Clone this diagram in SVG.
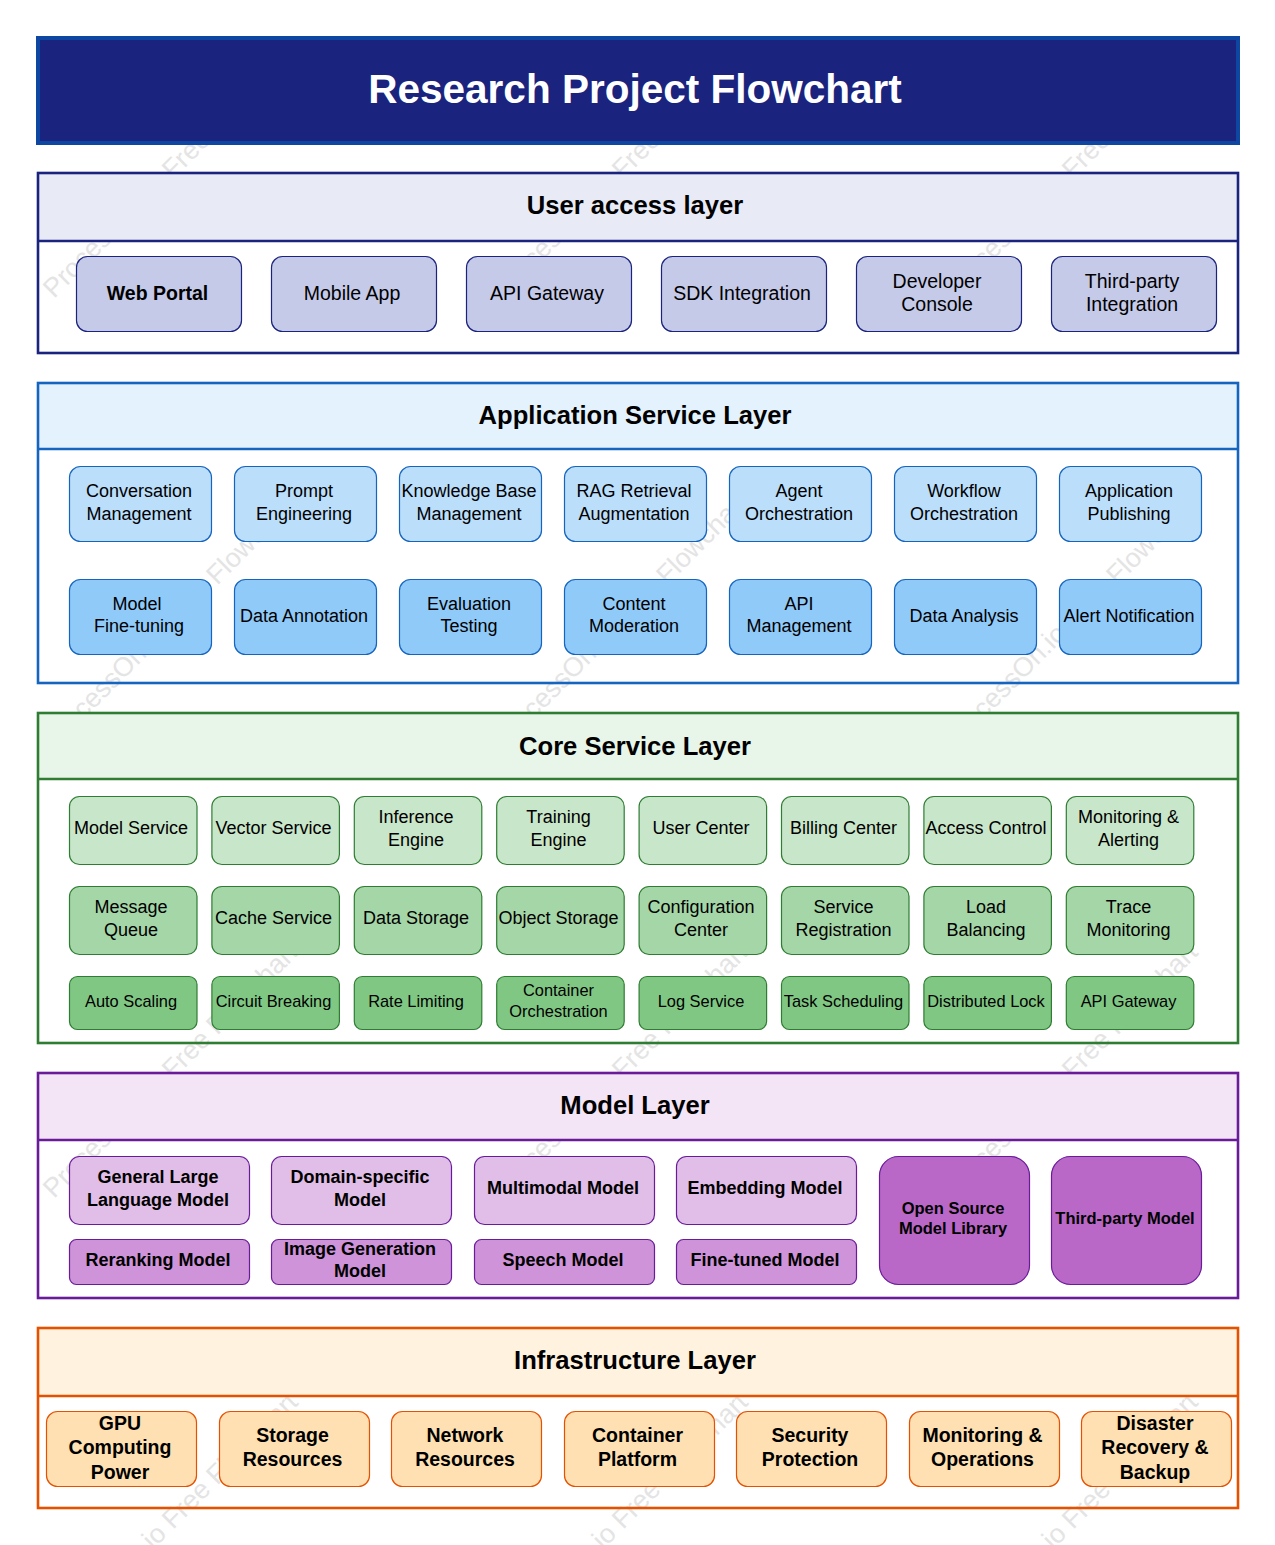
<svg xmlns="http://www.w3.org/2000/svg" width="1275" height="1545" viewBox="0 0 1275 1545">
<style>
text{font-family:"Liberation Sans",Arial,sans-serif;text-anchor:middle;fill:#000}
.wm{fill:#e4e4e4;font-size:26.8px;text-anchor:start}
.lt{font-size:25.6px;font-weight:bold}
.n{font-size:18px}
.un{font-size:19.5px}
.s{font-size:16.4px}
.b{font-size:19.5px;font-weight:bold}
.m{font-size:18px;font-weight:bold}
.ms{font-size:16.5px;font-weight:bold}
.u{fill:#c5cae9;stroke:#1a237e;stroke-width:1.2}
.a1{fill:#bbdefb;stroke:#1565c0;stroke-width:1.2}
.a2{fill:#90caf9;stroke:#1565c0;stroke-width:1.2}
.c1{fill:#c8e6c9;stroke:#2e7d32;stroke-width:1.2}
.c2{fill:#a5d6a7;stroke:#2e7d32;stroke-width:1.2}
.c3{fill:#81c784;stroke:#2e7d32;stroke-width:1.2}
.m1{fill:#e1bee7;stroke:#6a1b9a;stroke-width:1.2}
.m2{fill:#ce93d8;stroke:#6a1b9a;stroke-width:1.2}
.m3{fill:#ba68c8;stroke:#6a1b9a;stroke-width:1.2}
.i{fill:#ffe0b2;stroke:#e65100;stroke-width:1.2}
.lb{fill:none;stroke-width:2.6}
</style>
<rect width="1275" height="1545" fill="#ffffff"/>
<g id="watermark">
<text class="wm" transform="translate(54 299) rotate(-45)">ProcessOn.io Free Flowchart</text>
<text class="wm" transform="translate(504 299) rotate(-45)">ProcessOn.io Free Flowchart</text>
<text class="wm" transform="translate(954 299) rotate(-45)">ProcessOn.io Free Flowchart</text>
<text class="wm" transform="translate(54 749) rotate(-45)">ProcessOn.io Free Flowchart</text>
<text class="wm" transform="translate(504 749) rotate(-45)">ProcessOn.io Free Flowchart</text>
<text class="wm" transform="translate(954 749) rotate(-45)">ProcessOn.io Free Flowchart</text>
<text class="wm" transform="translate(54 1199) rotate(-45)">ProcessOn.io Free Flowchart</text>
<text class="wm" transform="translate(504 1199) rotate(-45)">ProcessOn.io Free Flowchart</text>
<text class="wm" transform="translate(954 1199) rotate(-45)">ProcessOn.io Free Flowchart</text>
<text class="wm" transform="translate(54 1649) rotate(-45)">ProcessOn.io Free Flowchart</text>
<text class="wm" transform="translate(504 1649) rotate(-45)">ProcessOn.io Free Flowchart</text>
<text class="wm" transform="translate(954 1649) rotate(-45)">ProcessOn.io Free Flowchart</text>
</g>
<g id="title">
<rect x="38" y="38" width="1200" height="105" fill="#1a237e" stroke="#0d47a1" stroke-width="4"/>
<text x="635" y="103" style="font-size:40.5px;font-weight:bold;fill:#fff">Research Project Flowchart</text>
</g>
<g id="layer-user">
<rect x="38" y="173" width="1200" height="68" fill="#e8eaf6"/>
<rect class="lb" x="38" y="173" width="1200" height="180" stroke="#1a237e"/>
<line class="lb" x1="38" y1="241" x2="1238" y2="241" stroke="#1a237e"/>
<text class="lt" x="635" y="214">User access layer</text>
</g>
<g id="layer-app">
<rect x="38" y="383" width="1200" height="66" fill="#e3f2fd"/>
<rect class="lb" x="38" y="383" width="1200" height="300" stroke="#1565c0"/>
<line class="lb" x1="38" y1="449" x2="1238" y2="449" stroke="#1565c0"/>
<text class="lt" x="635" y="424">Application Service Layer</text>
</g>
<g id="layer-core">
<rect x="38" y="713" width="1200" height="66" fill="#e8f5e9"/>
<rect class="lb" x="38" y="713" width="1200" height="330" stroke="#2e7d32"/>
<line class="lb" x1="38" y1="779" x2="1238" y2="779" stroke="#2e7d32"/>
<text class="lt" x="635" y="755">Core Service Layer</text>
</g>
<g id="layer-model">
<rect x="38" y="1073" width="1200" height="67" fill="#f3e5f5"/>
<rect class="lb" x="38" y="1073" width="1200" height="225" stroke="#6a1b9a"/>
<line class="lb" x1="38" y1="1140" x2="1238" y2="1140" stroke="#6a1b9a"/>
<text class="lt" x="635" y="1114">Model Layer</text>
</g>
<g id="layer-infra">
<rect x="38" y="1328" width="1200" height="68" fill="#fff3e0"/>
<rect class="lb" x="38" y="1328" width="1200" height="180" stroke="#e65100"/>
<line class="lb" x1="38" y1="1396" x2="1238" y2="1396" stroke="#e65100"/>
<text class="lt" x="635" y="1369">Infrastructure Layer</text>
</g>
<g id="connectors"/>
<g id="u1"><rect class="u" x="76.5" y="256.5" width="165" height="75" rx="11"/><text class="b" x="157.5" y="300">Web Portal</text></g>
<g id="u2"><rect class="u" x="271.5" y="256.5" width="165" height="75" rx="11"/><text class="un" x="352" y="300">Mobile App</text></g>
<g id="u3"><rect class="u" x="466.5" y="256.5" width="165" height="75" rx="11"/><text class="un" x="547" y="300">API Gateway</text></g>
<g id="u4"><rect class="u" x="661.5" y="256.5" width="165" height="75" rx="11"/><text class="un" x="742" y="300">SDK Integration</text></g>
<g id="u5"><rect class="u" x="856.5" y="256.5" width="165" height="75" rx="11"/><text class="un"><tspan x="937" y="288">Developer</tspan><tspan x="937" y="311">Console</tspan></text></g>
<g id="u6"><rect class="u" x="1051.5" y="256.5" width="165" height="75" rx="11"/><text class="un"><tspan x="1132" y="288">Third-party</tspan><tspan x="1132" y="311">Integration</tspan></text></g>
<g id="a1"><rect class="a1" x="69.5" y="466.5" width="142" height="75" rx="11"/><text class="n"><tspan x="139" y="497">Conversation</tspan><tspan x="139" y="519.5">Management</tspan></text></g>
<g id="a2"><rect class="a1" x="234.5" y="466.5" width="142" height="75" rx="11"/><text class="n"><tspan x="304" y="497">Prompt</tspan><tspan x="304" y="519.5">Engineering</tspan></text></g>
<g id="a3"><rect class="a1" x="399.5" y="466.5" width="142" height="75" rx="11"/><text class="n"><tspan x="469" y="497">Knowledge Base</tspan><tspan x="469" y="519.5">Management</tspan></text></g>
<g id="a4"><rect class="a1" x="564.5" y="466.5" width="142" height="75" rx="11"/><text class="n"><tspan x="634" y="497">RAG Retrieval</tspan><tspan x="634" y="519.5">Augmentation</tspan></text></g>
<g id="a5"><rect class="a1" x="729.5" y="466.5" width="142" height="75" rx="11"/><text class="n"><tspan x="799" y="497">Agent</tspan><tspan x="799" y="519.5">Orchestration</tspan></text></g>
<g id="a6"><rect class="a1" x="894.5" y="466.5" width="142" height="75" rx="11"/><text class="n"><tspan x="964" y="497">Workflow</tspan><tspan x="964" y="519.5">Orchestration</tspan></text></g>
<g id="a7"><rect class="a1" x="1059.5" y="466.5" width="142" height="75" rx="11"/><text class="n"><tspan x="1129" y="497">Application</tspan><tspan x="1129" y="519.5">Publishing</tspan></text></g>
<g id="a8"><rect class="a2" x="69.5" y="579.5" width="142" height="75" rx="11"/><text class="n"><tspan x="137" y="610">Model</tspan><tspan x="139" y="632">Fine-tuning</tspan></text></g>
<g id="a9"><rect class="a2" x="234.5" y="579.5" width="142" height="75" rx="11"/><text class="n" x="304" y="621.5">Data Annotation</text></g>
<g id="a10"><rect class="a2" x="399.5" y="579.5" width="142" height="75" rx="11"/><text class="n"><tspan x="469" y="610">Evaluation</tspan><tspan x="469" y="632">Testing</tspan></text></g>
<g id="a11"><rect class="a2" x="564.5" y="579.5" width="142" height="75" rx="11"/><text class="n"><tspan x="634" y="610">Content</tspan><tspan x="634" y="632">Moderation</tspan></text></g>
<g id="a12"><rect class="a2" x="729.5" y="579.5" width="142" height="75" rx="11"/><text class="n"><tspan x="799" y="610">API</tspan><tspan x="799" y="632">Management</tspan></text></g>
<g id="a13"><rect class="a2" x="894.5" y="579.5" width="142" height="75" rx="11"/><text class="n" x="964" y="621.5">Data Analysis</text></g>
<g id="a14"><rect class="a2" x="1059.5" y="579.5" width="142" height="75" rx="11"/><text class="n" x="1129" y="621.5">Alert Notification</text></g>
<g id="c1"><rect class="c1" x="69.5" y="796.5" width="127.5" height="68" rx="10"/><text class="n" x="131" y="834">Model Service</text></g>
<g id="c2"><rect class="c1" x="211.9" y="796.5" width="127.5" height="68" rx="10"/><text class="n" x="273.5" y="834">Vector Service</text></g>
<g id="c3"><rect class="c1" x="354.3" y="796.5" width="127.5" height="68" rx="10"/><text class="n"><tspan x="416" y="823">Inference</tspan><tspan x="416" y="846">Engine</tspan></text></g>
<g id="c4"><rect class="c1" x="496.7" y="796.5" width="127.5" height="68" rx="10"/><text class="n"><tspan x="558.5" y="823">Training</tspan><tspan x="558.5" y="846">Engine</tspan></text></g>
<g id="c5"><rect class="c1" x="639.1" y="796.5" width="127.5" height="68" rx="10"/><text class="n" x="701" y="834">User Center</text></g>
<g id="c6"><rect class="c1" x="781.5" y="796.5" width="127.5" height="68" rx="10"/><text class="n" x="843.5" y="834">Billing Center</text></g>
<g id="c7"><rect class="c1" x="923.9" y="796.5" width="127.5" height="68" rx="10"/><text class="n" x="986" y="834">Access Control</text></g>
<g id="c8"><rect class="c1" x="1066.3" y="796.5" width="127.5" height="68" rx="10"/><text class="n"><tspan x="1128.5" y="823">Monitoring &amp;</tspan><tspan x="1128.5" y="846">Alerting</tspan></text></g>
<g id="c9"><rect class="c2" x="69.5" y="886.5" width="127.5" height="68" rx="10"/><text class="n"><tspan x="131" y="913">Message</tspan><tspan x="131" y="936">Queue</tspan></text></g>
<g id="c10"><rect class="c2" x="211.9" y="886.5" width="127.5" height="68" rx="10"/><text class="n" x="273.5" y="924">Cache Service</text></g>
<g id="c11"><rect class="c2" x="354.3" y="886.5" width="127.5" height="68" rx="10"/><text class="n" x="416" y="924">Data Storage</text></g>
<g id="c12"><rect class="c2" x="496.7" y="886.5" width="127.5" height="68" rx="10"/><text class="n" x="558.5" y="924">Object Storage</text></g>
<g id="c13"><rect class="c2" x="639.1" y="886.5" width="127.5" height="68" rx="10"/><text class="n"><tspan x="701" y="913">Configuration</tspan><tspan x="701" y="936">Center</tspan></text></g>
<g id="c14"><rect class="c2" x="781.5" y="886.5" width="127.5" height="68" rx="10"/><text class="n"><tspan x="843.5" y="913">Service</tspan><tspan x="843.5" y="936">Registration</tspan></text></g>
<g id="c15"><rect class="c2" x="923.9" y="886.5" width="127.5" height="68" rx="10"/><text class="n"><tspan x="986" y="913">Load</tspan><tspan x="986" y="936">Balancing</tspan></text></g>
<g id="c16"><rect class="c2" x="1066.3" y="886.5" width="127.5" height="68" rx="10"/><text class="n"><tspan x="1128.5" y="913">Trace</tspan><tspan x="1128.5" y="936">Monitoring</tspan></text></g>
<g id="c17"><rect class="c3" x="69.5" y="976.5" width="127.5" height="53" rx="8"/><text class="s" x="131" y="1007">Auto Scaling</text></g>
<g id="c18"><rect class="c3" x="211.9" y="976.5" width="127.5" height="53" rx="8"/><text class="s" x="273.5" y="1007">Circuit Breaking</text></g>
<g id="c19"><rect class="c3" x="354.3" y="976.5" width="127.5" height="53" rx="8"/><text class="s" x="416" y="1007">Rate Limiting</text></g>
<g id="c20"><rect class="c3" x="496.7" y="976.5" width="127.5" height="53" rx="8"/><text class="s"><tspan x="558.5" y="996">Container</tspan><tspan x="558.5" y="1017">Orchestration</tspan></text></g>
<g id="c21"><rect class="c3" x="639.1" y="976.5" width="127.5" height="53" rx="8"/><text class="s" x="701" y="1007">Log Service</text></g>
<g id="c22"><rect class="c3" x="781.5" y="976.5" width="127.5" height="53" rx="8"/><text class="s" x="843.5" y="1007">Task Scheduling</text></g>
<g id="c23"><rect class="c3" x="923.9" y="976.5" width="127.5" height="53" rx="8"/><text class="s" x="986" y="1007">Distributed Lock</text></g>
<g id="c24"><rect class="c3" x="1066.3" y="976.5" width="127.5" height="53" rx="8"/><text class="s" x="1128.5" y="1007">API Gateway</text></g>
<g id="m1"><rect class="m1" x="69.5" y="1156.5" width="180" height="68" rx="10"/><text class="m"><tspan x="158" y="1183">General Large</tspan><tspan x="158" y="1206">Language Model</tspan></text></g>
<g id="m2"><rect class="m1" x="271.5" y="1156.5" width="180" height="68" rx="10"/><text class="m"><tspan x="360" y="1183">Domain-specific</tspan><tspan x="360" y="1206">Model</tspan></text></g>
<g id="m3"><rect class="m1" x="474.5" y="1156.5" width="180" height="68" rx="10"/><text class="m" x="563" y="1194">Multimodal Model</text></g>
<g id="m4"><rect class="m1" x="676.5" y="1156.5" width="180" height="68" rx="10"/><text class="m" x="765" y="1194">Embedding Model</text></g>
<g id="m5"><rect class="m2" x="69.5" y="1239.5" width="180" height="45" rx="7"/><text class="m" x="158" y="1266">Reranking Model</text></g>
<g id="m6"><rect class="m2" x="271.5" y="1239.5" width="180" height="45" rx="7"/><text class="m"><tspan x="360" y="1255">Image Generation</tspan><tspan x="360" y="1277">Model</tspan></text></g>
<g id="m7"><rect class="m2" x="474.5" y="1239.5" width="180" height="45" rx="7"/><text class="m" x="563" y="1266">Speech Model</text></g>
<g id="m8"><rect class="m2" x="676.5" y="1239.5" width="180" height="45" rx="7"/><text class="m" x="765" y="1266">Fine-tuned Model</text></g>
<g id="m9"><rect class="m3" x="879.5" y="1156.5" width="150" height="128" rx="19"/><text class="ms"><tspan x="953" y="1214">Open Source</tspan><tspan x="953" y="1234">Model Library</tspan></text></g>
<g id="m10"><rect class="m3" x="1051.5" y="1156.5" width="150" height="128" rx="19"/><text class="ms" x="1125" y="1224">Third-party Model</text></g>
<g id="i1"><rect class="i" x="46.5" y="1411.5" width="150" height="75" rx="11"/><text class="b"><tspan x="120" y="1429.5">GPU</tspan><tspan x="120" y="1454">Computing</tspan><tspan x="120" y="1479">Power</tspan></text></g>
<g id="i2"><rect class="i" x="219.5" y="1411.5" width="150" height="75" rx="11"/><text class="b"><tspan x="292.5" y="1442">Storage</tspan><tspan x="292.5" y="1466">Resources</tspan></text></g>
<g id="i3"><rect class="i" x="391.5" y="1411.5" width="150" height="75" rx="11"/><text class="b"><tspan x="465" y="1442">Network</tspan><tspan x="465" y="1466">Resources</tspan></text></g>
<g id="i4"><rect class="i" x="564.5" y="1411.5" width="150" height="75" rx="11"/><text class="b"><tspan x="637.5" y="1442">Container</tspan><tspan x="637.5" y="1466">Platform</tspan></text></g>
<g id="i5"><rect class="i" x="736.5" y="1411.5" width="150" height="75" rx="11"/><text class="b"><tspan x="810" y="1442">Security</tspan><tspan x="810" y="1466">Protection</tspan></text></g>
<g id="i6"><rect class="i" x="909.5" y="1411.5" width="150" height="75" rx="11"/><text class="b"><tspan x="982.5" y="1442">Monitoring &amp;</tspan><tspan x="982.5" y="1466">Operations</tspan></text></g>
<g id="i7"><rect class="i" x="1081.5" y="1411.5" width="150" height="75" rx="11"/><text class="b"><tspan x="1155" y="1429.5">Disaster</tspan><tspan x="1155" y="1454">Recovery &amp;</tspan><tspan x="1155" y="1479">Backup</tspan></text></g>
</svg>
